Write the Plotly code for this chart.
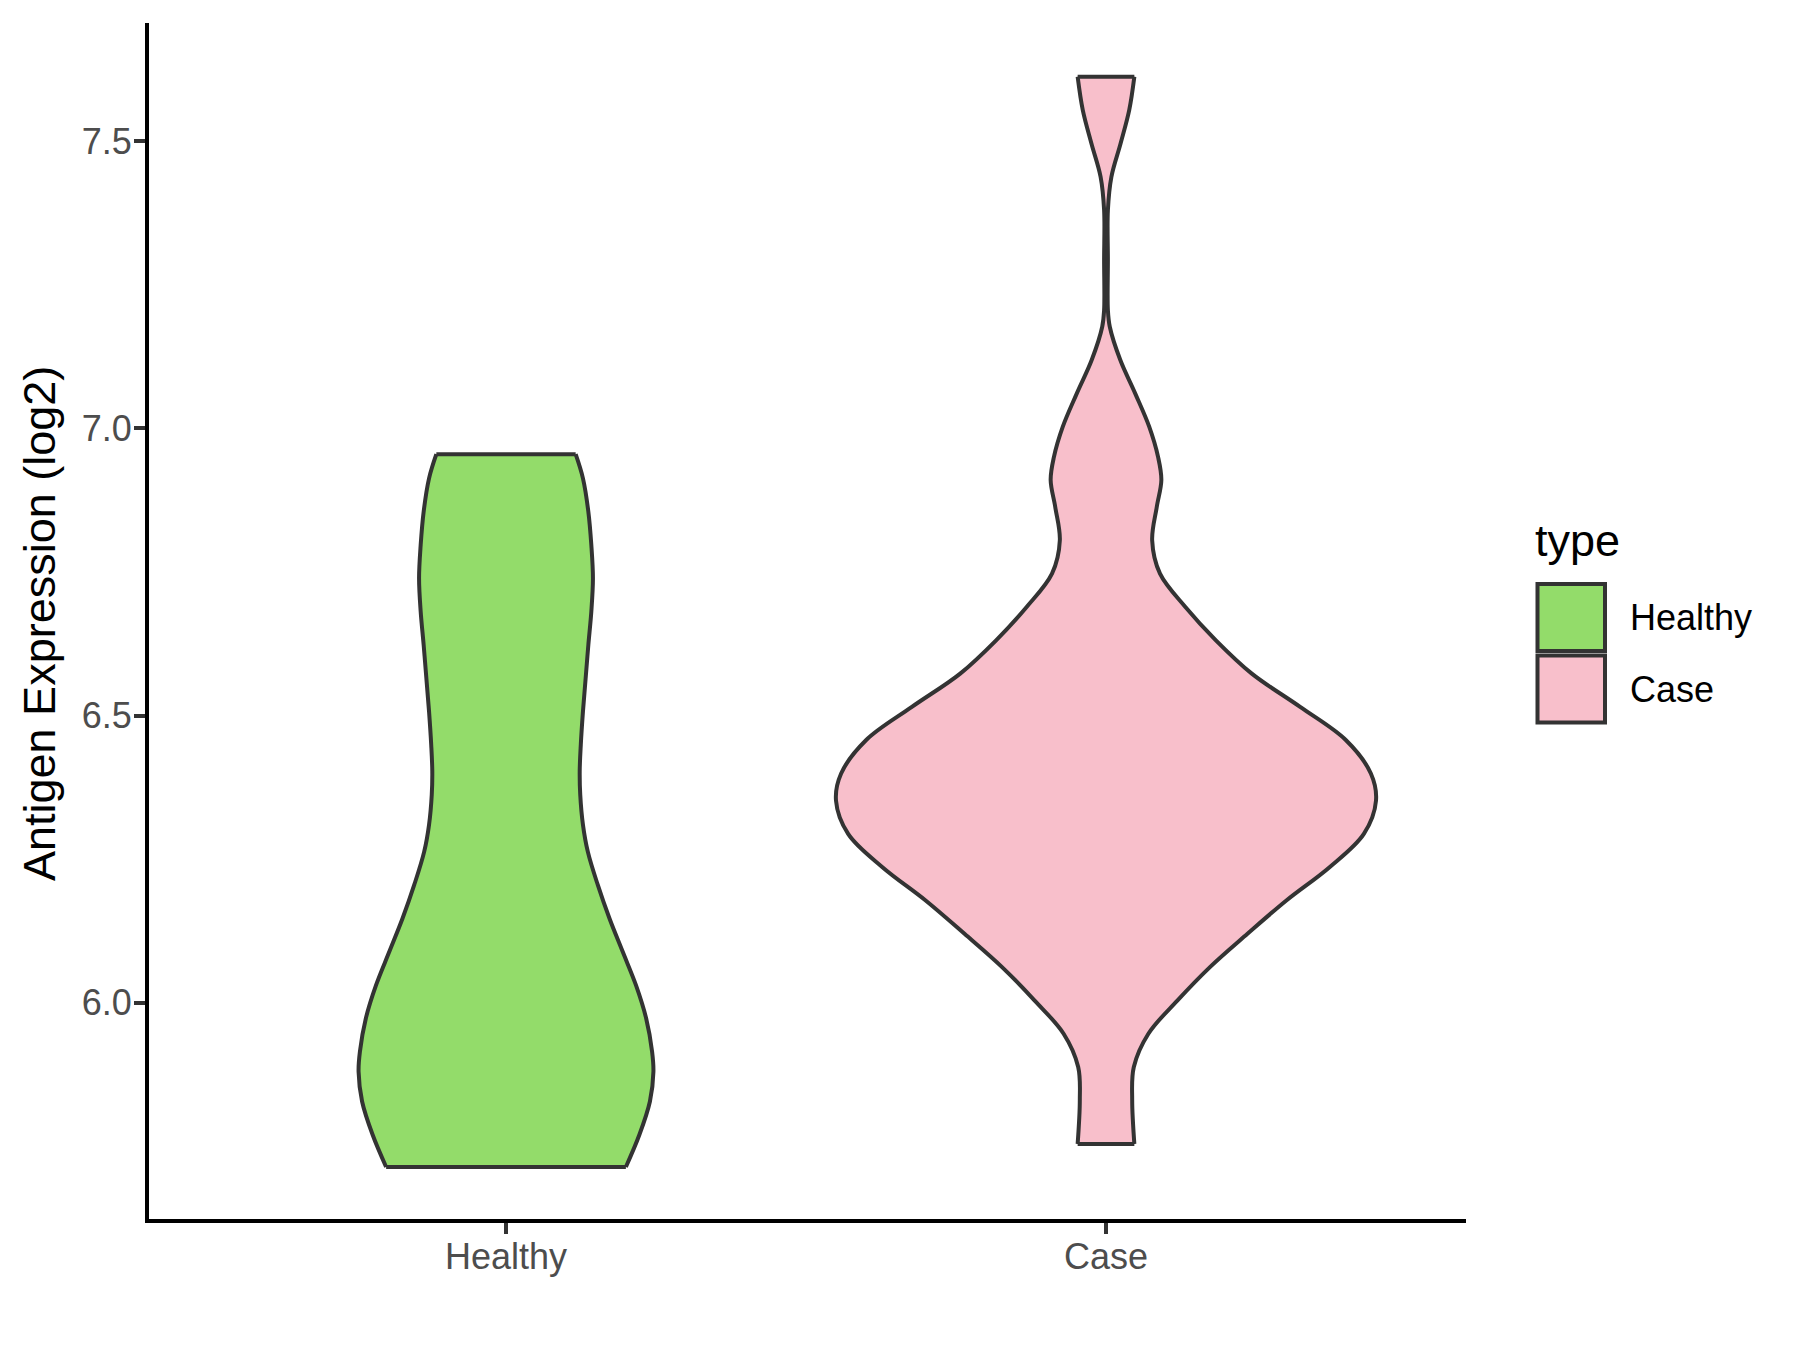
import plotly.graph_objects as go
import numpy as np

# ---------------- data ----------------
categories = ["Healthy", "Case"]

# expression level (log2) and scaled density (1 = widest violin) for each group
healthy_expr = [6.955, 6.913, 6.855, 6.797, 6.739, 6.681, 6.623, 6.565, 6.507, 6.449,
                6.403, 6.362, 6.310, 6.263, 6.205, 6.147, 6.089, 6.031, 5.973, 5.915,
                5.880, 5.828, 5.770, 5.714]
healthy_density = [0.258, 0.285, 0.305, 0.316, 0.322, 0.316, 0.305, 0.295, 0.285, 0.277,
                   0.273, 0.275, 0.285, 0.303, 0.340, 0.383, 0.432, 0.481, 0.519, 0.541,
                   0.546, 0.533, 0.494, 0.444]

case_expr = [7.612, 7.554, 7.496, 7.438, 7.380, 7.293, 7.206, 7.177, 7.119, 7.061,
             7.003, 6.950, 6.910, 6.863, 6.805, 6.747, 6.689, 6.631, 6.573, 6.515,
             6.457, 6.399, 6.352, 6.294, 6.236, 6.178, 6.120, 6.062, 6.004, 5.946,
             5.888, 5.830, 5.754]
case_density = [0.105, 0.086, 0.054, 0.020, 0.007, 0.007, 0.007, 0.014, 0.053, 0.108,
                0.160, 0.193, 0.205, 0.188, 0.171, 0.200, 0.294, 0.407, 0.540, 0.719,
                0.889, 0.981, 1.000, 0.955, 0.828, 0.668, 0.524, 0.385, 0.265, 0.157,
                0.103, 0.097, 0.105]

y_tick_values = [6.0, 6.5, 7.0, 7.5]
y_tick_labels = ["6.0", "6.5", "7.0", "7.5"]
legend_title = "type"
y_title = "Antigen Expression (log2)"

fill_colors = {"Healthy": "#93DC6A", "Case": "#F8BFCB"}
outline = "#333333"
MAX_HALF = 0.45  # ggplot violin width 0.9

groups = {
    "Healthy": (healthy_expr, healthy_density),
    "Case": (case_expr, case_density),
}

# ---------------- figure ----------------
OFF = 8  # page body margin
W, H = 1800, 1350
L, T, B = 141, 15, 139
PW = 1317
R = W - L - PW
PH = H - T - B


def xp(px):
    return (px - OFF - L) / PW


def yp(py):
    return (H - B - (py - OFF)) / PH


fig = go.Figure()
for i, cat in enumerate(categories):
    pos = i + 1
    ys, dens = groups[cat]
    ys = np.array(ys)
    hw = MAX_HALF * np.array(dens)
    xl, xr = pos - hw, pos + hw
    line = dict(color=outline, width=4, shape="spline", smoothing=1)
    fig.add_trace(go.Scatter(x=xl, y=ys, mode="lines", line=line,
                             showlegend=False, hoverinfo="skip"))
    fig.add_trace(go.Scatter(x=xr, y=ys, mode="lines", line=line, fill="tonextx",
                             fillcolor=fill_colors[cat], showlegend=False,
                             hoverinfo="skip"))
    for k in (0, -1):
        fig.add_trace(go.Scatter(x=[xl[k], xr[k]], y=[ys[k], ys[k]], mode="lines",
                                 line=dict(color=outline, width=4),
                                 showlegend=False, hoverinfo="skip"))

font_family = "Liberation Sans, Arial, sans-serif"

fig.update_layout(
    width=W, height=H,
    margin=dict(l=L, r=R, t=T, b=B),
    paper_bgcolor="white", plot_bgcolor="white",
    font=dict(family=font_family, color="black"),
    showlegend=False,
    xaxis=dict(
        range=[0.405, 2.6], tickmode="array", tickvals=[1, 2], ticktext=categories,
        showline=True, linecolor="black", linewidth=4, mirror=False,
        ticks="outside", ticklen=11, tickwidth=4, tickcolor=outline,
        ticklabelstandoff=-8,
        tickfont=dict(size=36, color="#4D4D4D", family=font_family),
        showgrid=False, zeroline=False, fixedrange=True,
    ),
    yaxis=dict(
        range=[5.6234, 7.7058], tickmode="array", tickvals=y_tick_values,
        ticktext=y_tick_labels,
        showline=True, linecolor="black", linewidth=4,
        ticks="outside", ticklen=11, tickwidth=4, tickcolor=outline,
        ticklabelstandoff=-5,
        tickfont=dict(size=36, color="#4D4D4D", family=font_family),
        showgrid=False, zeroline=False, fixedrange=True,
    ),
)

# y axis title
fig.add_annotation(text=y_title, xref="paper", yref="paper", x=xp(40), y=yp(624),
                   xanchor="center", yanchor="middle", textangle=-90, showarrow=False,
                   font=dict(size=45, color="black", family=font_family))

# manual legend (ggplot style)
fig.add_annotation(text=legend_title, xref="paper", yref="paper", x=xp(1533), y=yp(540),
                   xanchor="left", yanchor="middle", showarrow=False,
                   font=dict(size=45, color="black", family=font_family))
key_tops = [584, 655.5]
for cat, top in zip(categories, key_tops):
    fig.add_shape(type="rect", xref="paper", yref="paper",
                  x0=xp(1537.5), x1=xp(1605), y0=yp(top), y1=yp(top + 67),
                  fillcolor=fill_colors[cat], line=dict(color=outline, width=4))
    fig.add_annotation(text=cat, xref="paper", yref="paper", x=xp(1628), y=yp(top + 34),
                       xanchor="left", yanchor="middle", showarrow=False,
                       font=dict(size=36, color="black", family=font_family))

fig.write_html("out.html")
